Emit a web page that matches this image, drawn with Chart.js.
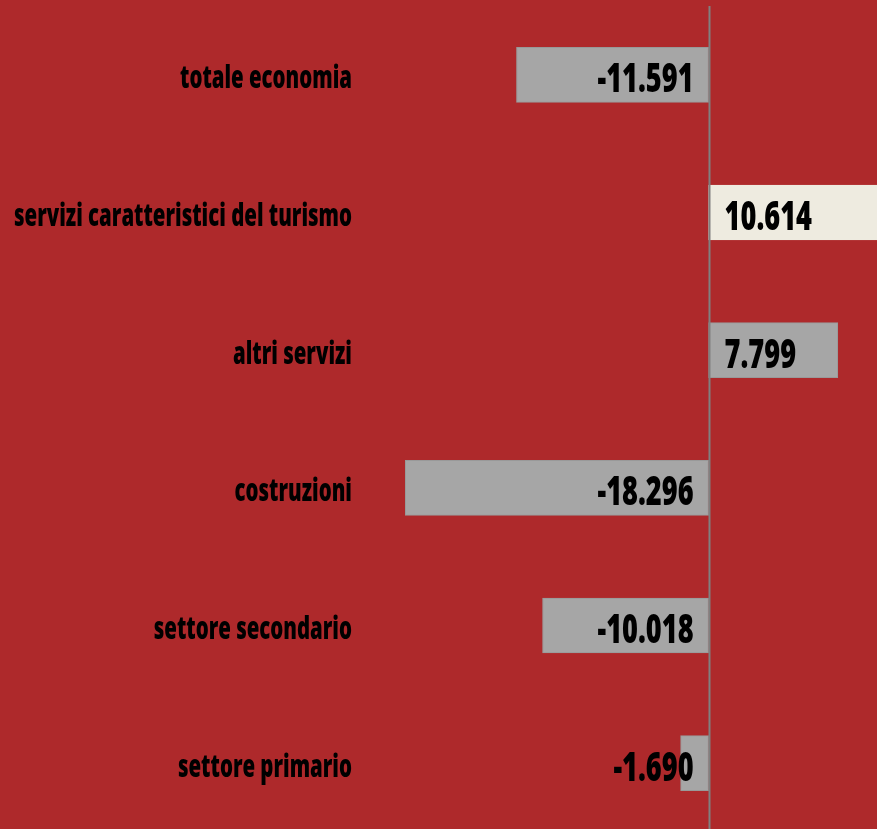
<!DOCTYPE html>
<html>
<head>
<meta charset="utf-8">
<script src="https://cdn.jsdelivr.net/npm/chart.js@4"></script>
<style>
  html, body { margin: 0; padding: 0; background: #AE292B; overflow: hidden; }
  #wrap { width: 877px; height: 832px; position: relative; }
</style>
</head>
<body>
<div id="wrap"><canvas id="chart"></canvas></div>
<script>
// Categorie e valori (variazioni)
const categories = [
    'totale economia',
    'servizi caratteristici del turismo',
    'altri servizi',
    'costruzioni',
    'settore secondario',
    'settore primario'
];
const values = [-11.591, 10.614, 7.799, -18.296, -10.018, -1.690];
const highlight = [false, true, false, false, false, false];

const FONT = '"Open Sans", "DejaVu Sans", sans-serif';

// Disegna un testo compresso orizzontalmente (font condensato)
function drawNarrow(ctx, txt, x, y, align, squeeze) {
    const w = ctx.measureText(txt).width * squeeze;
    const left = align === 'right' ? x - w : x;
    ctx.save();
    ctx.translate(left, y);
    ctx.scale(squeeze, 1);
    ctx.textAlign = 'left';
    ctx.fillText(txt, 0, 0);
    ctx.restore();
}

// Linea dello zero, disegnata sopra le barre
const zeroLine = {
    id: 'zeroLine',
    afterDatasetsDraw(chart) {
        const { ctx, chartArea, scales } = chart;
        const x = Math.round(scales.x.getPixelForValue(0)) + 0.5;
        ctx.save();
        ctx.strokeStyle = '#808080';
        ctx.lineWidth = 2;
        ctx.beginPath();
        ctx.moveTo(x, chartArea.top);
        ctx.lineTo(x, chartArea.bottom + 10);
        ctx.stroke();
        ctx.restore();
    }
};

// Etichette: categorie a sinistra e valori dentro le barre
const labelsPlugin = {
    id: 'labelsPlugin',
    afterDraw(chart) {
        const { ctx, scales } = chart;
        const meta = chart.getDatasetMeta(0);
        ctx.save();
        ctx.fillStyle = '#000';
        ctx.textBaseline = 'alphabetic';

        // categorie
        ctx.font = '800 32px ' + FONT;
        const longest = ctx.measureText(categories[1]).width;
        const sq1 = 338 / longest;
        categories.forEach((c, i) => {
            const y = scales.y.getPixelForValue(i);
            drawNarrow(ctx, c, 352, y + 13.5, 'right', sq1);
        });

        // valori
        ctx.font = '800 40px ' + FONT;
        const sq2 = 96 / ctx.measureText('-18.296').width;
        meta.data.forEach((bar, i) => {
            const v = values[i];
            const txt = v.toFixed(3);
            if (v < 0) {
                drawNarrow(ctx, txt, bar.base - 15, bar.y + 17.5, 'right', sq2);
            } else {
                drawNarrow(ctx, txt, bar.base + 16, bar.y + 17.5, 'left', sq2);
            }
        });
        ctx.restore();
    }
};

new Chart(document.getElementById('chart'), {
    type: 'bar',
    data: {
        labels: categories,
        datasets: [{
            data: values,
            backgroundColor: highlight.map(h => h ? '#EEEBE0' : '#A6A6A6'),
            borderColor: highlight.map(h => h ? '#EEEBE0' : '#999999'),
            borderWidth: 1,
            borderSkipped: false,
            barThickness: 55
        }]
    },
    options: {
        indexAxis: 'y',
        responsive: true,
        maintainAspectRatio: false,
        animation: false,
        layout: { padding: { top: 6, left: 0, right: 0, bottom: 0 } },
        plugins: {
            legend: { display: false },
            tooltip: { enabled: false }
        },
        scales: {
            x: {
                display: false,
                min: -21.03,
                max: 10.16
            },
            y: {
                afterFit(scale) {
                    scale.width = 360;
                    scale.paddingTop = 0;
                    scale.paddingBottom = 0;
                },
                grid: { display: false, drawTicks: false },
                border: { display: false },
                ticks: { display: false }
            }
        }
    },
    plugins: [zeroLine, labelsPlugin]
});
</script>
</body>
</html>
